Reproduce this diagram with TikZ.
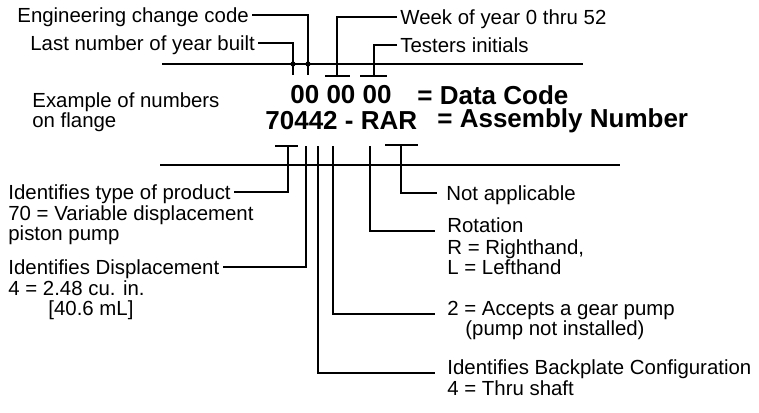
\documentclass[tikz,border=0pt]{standalone}
\usepackage{fontspec}
\setmainfont{Liberation Sans}
\usetikzlibrary{positioning}

\tikzset{
  lbl/.style={inner xsep=1.5pt, inner ysep=0pt, anchor=west,
    font=\fontsize{10.2}{10.25}\selectfont, text height=7.5pt, text depth=0pt},
  lblx/.style={inner xsep=1.5pt, inner ysep=0pt, anchor=north west, align=left,
    font=\fontsize{10.2}{10.25}\selectfont},
  code/.style={inner sep=0pt, anchor=west,
    font=\fontsize{13}{15}\selectfont\bfseries},
  wire/.style={line width=1pt},
}

\begin{document}
\begin{tikzpicture}[x=0.5pt, y=-0.5pt]
\useasboundingbox (0,0) rectangle (759,412);

% the two code lines
\node[code] (dcode) at (290,95) {00 00 00};
\node[code] (dname) at (417,95) {= Data Code};
\node[code] (acode) at (265,121) {70442 - RAR};
\node[code] (aname) at (437,121) {= Assembly Number};
\node[lblx] (ex) at (29,92) {Example of numbers\\on flange};

% rules
\draw[wire] (162,64) -- (583,64);
\draw[wire] (160,165) -- (620,165);

% data code
\node[lbl] (ecc) at (14,15) {Engineering change code};
\node[lbl] (last) at (27,43) {Last number of year built};
\node[lbl] (week) at (397,17) {Week of year 0 thru 52};
\node[lbl] (test) at (397,45) {Testers initials};

\coordinate (tEcc) at (308,75);
\coordinate (tLast) at (293,75);
\coordinate (tWeek) at (337,76);
\coordinate (tTest) at (374,76);

\draw[wire] (ecc.east) -| (tEcc);
\draw[wire] (last.east) -| (tLast);
\fill (308,64) circle (1.3pt);
\fill (293,64) circle (1.3pt);

\draw[wire] (week.west) -| (tWeek);
\draw[wire] ([xshift=-6pt]tWeek) -- ([xshift=6.5pt]tWeek);
\draw[wire] (test.west) -| (tTest);
\draw[wire] ([xshift=-7pt]tTest) -- ([xshift=6.5pt]tTest);

% assembly number
\coordinate (t70) at (288,146);
\coordinate (tDisp) at (306,146);
\coordinate (tBack) at (318,146);
\coordinate (tGear) at (333,146);
\coordinate (tRot) at (370,146);
\coordinate (tNa) at (401,145);

\node[lbl] (prod) at (5,192) {Identifies type of product};
\node[lblx] (prodx) at (5,205) {70 = Variable displacement\\piston pump};
\node[lbl] (disp) at (5,267) {Identifies Displacement};
\node[lblx] (dispx) at (5,280) {4 = 2.48 cu. in.\\\hspace*{20pt}[40.6 mL]};

\draw[wire] ([xshift=-6.5pt]t70) -- ([xshift=5pt]t70);
\draw[wire] (t70) |- (prod.east);
\draw[wire] (tDisp) |- (disp.east);

\node[lbl] (na) at (443,193) {Not applicable};
\node[lbl] (rot) at (444,225) {Rotation};
\node[lblx] (rotx) at (444,239) {R = Righthand,\\L = Lefthand};
\node[lbl] (gear) at (444,308) {2 = Accepts a gear pump};
\node[lbl] (gearx) at (462,328) {(pump not installed)};
\node[lbl] (back) at (444,367) {Identifies Backplate Configuration};
\node[lbl] (backx) at (444,388) {4 = Thru shaft};

\draw[wire] ([xshift=-8pt]tNa) -- ([xshift=8.5pt]tNa);
\draw[wire] (tNa) |- ([xshift=-3pt]na.west);
\draw[wire] (tRot) |- ([xshift=-4.5pt,yshift=-3pt]rot.west);
\draw[wire] (tGear) |- ([xshift=-4.5pt,yshift=-3pt]gear.west);
\draw[wire] (tBack) |- ([xshift=-4.5pt,yshift=-3pt]back.west);

\end{tikzpicture}
\end{document}
